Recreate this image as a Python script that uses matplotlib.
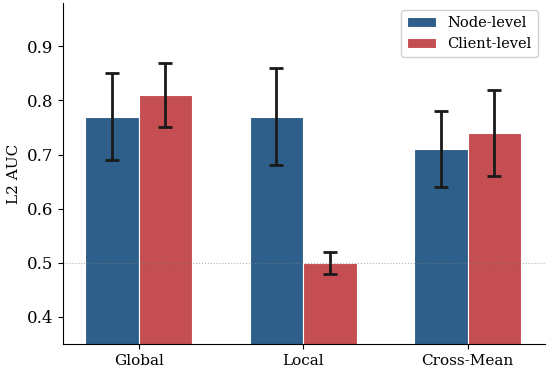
import matplotlib.pyplot as plt
import numpy as np

plt.rcParams['font.family'] = 'DejaVu Serif'

groups = ["Global", "Local", "Cross-Mean"]
node_vals = [0.77, 0.77, 0.71]
node_err = [0.08, 0.09, 0.07]
client_vals = [0.81, 0.50, 0.74]
client_err = [0.06, 0.02, 0.08]

x = np.arange(len(groups))
w = 0.325

fig = plt.figure(figsize=(5.5, 3.72), dpi=100)
ax = fig.add_axes([63/550, 28/372, 482/550, 341/372])

ax.bar(x - w/2, node_vals, w, yerr=node_err, color="#2e5f8a", edgecolor="white",
       linewidth=0.8, capsize=5, error_kw=dict(elinewidth=2, capthick=2, ecolor="#1a1a1a"),
       label="Node-level")
ax.bar(x + w/2, client_vals, w, yerr=client_err, color="#c44e52", edgecolor="white",
       linewidth=0.8, capsize=5, error_kw=dict(elinewidth=2, capthick=2, ecolor="#1a1a1a"),
       label="Client-level")

ax.axhline(0.5, color="gray", linestyle=":", linewidth=0.8, alpha=0.6, zorder=2.5)

ax.set_xticks(x)
ax.set_xticklabels(groups, fontsize=11)
ax.set_ylabel("L2 AUC", fontsize=11)
ax.set_ylim(0.35, 0.98)
ax.set_xlim(-0.46, 2.47)
ax.set_yticks([0.4, 0.5, 0.6, 0.7, 0.8, 0.9])
ax.tick_params(axis="y", labelsize=12)
ax.spines["top"].set_visible(False)
ax.spines["right"].set_visible(False)
ax.legend(loc="upper right", fontsize=10.5, framealpha=0.9, edgecolor="#cccccc")

plt.savefig("out.png", dpi=100)
